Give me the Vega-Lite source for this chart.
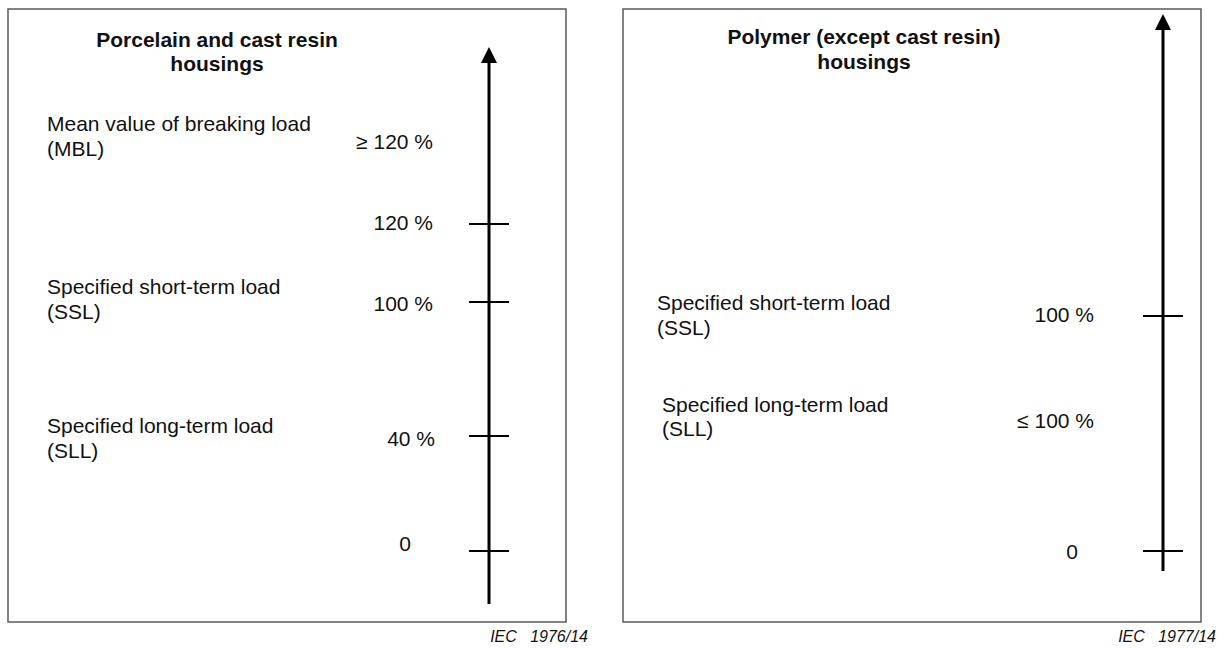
{
  "$schema": "https://vega.github.io/schema/vega-lite/v6.json",
  "width": 1228,
  "height": 648,
  "autosize": {"type": "fit", "contains": "padding"},
  "padding": 0,
  "background": "white",
  "config": {"view": {"stroke": null}, "text": {"font": "Liberation Sans"}},
  "datasets": {
    "boxes": [
      {"panel": "Porcelain and cast resin", "x": 8, "x2": 566, "y": 9, "y2": 622},
      {"panel": "Polymer (except cast resin)", "x": 623, "x2": 1201, "y": 9, "y2": 622}
    ],
    "shafts": [
      {"panel": "Porcelain and cast resin", "x": 489, "y": 60, "y2": 604},
      {"panel": "Polymer (except cast resin)", "x": 1163, "y": 26, "y2": 571}
    ],
    "heads": [
      {"panel": "Porcelain and cast resin", "x": 489, "y": 55},
      {"panel": "Polymer (except cast resin)", "x": 1163, "y": 22}
    ],
    "ticks": [
      {"panel": "Porcelain and cast resin", "load": "120 %", "x": 469, "x2": 509, "y": 224},
      {"panel": "Porcelain and cast resin", "load": "100 %", "x": 469, "x2": 509, "y": 302},
      {"panel": "Porcelain and cast resin", "load": "40 %", "x": 469, "x2": 509, "y": 436},
      {"panel": "Porcelain and cast resin", "load": "0", "x": 469, "x2": 509, "y": 551},
      {"panel": "Polymer (except cast resin)", "load": "100 %", "x": 1143, "x2": 1183, "y": 316},
      {"panel": "Polymer (except cast resin)", "load": "0", "x": 1143, "x2": 1183, "y": 551}
    ],
    "labels": [
      {"kind": "title", "text": "Porcelain and cast resin", "x": 217, "y": 41},
      {"kind": "title", "text": "housings", "x": 217, "y": 65},
      {"kind": "title", "text": "Polymer (except cast resin)", "x": 864, "y": 38},
      {"kind": "title", "text": "housings", "x": 864, "y": 63},
      {"kind": "name", "text": "Mean value of breaking load", "x": 47, "y": 125},
      {"kind": "name", "text": "(MBL)", "x": 47, "y": 150},
      {"kind": "name", "text": "Specified short-term load", "x": 47, "y": 288},
      {"kind": "name", "text": "(SSL)", "x": 47, "y": 313},
      {"kind": "name", "text": "Specified long-term load", "x": 47, "y": 427},
      {"kind": "name", "text": "(SLL)", "x": 47, "y": 452},
      {"kind": "name", "text": "Specified short-term load", "x": 657, "y": 304},
      {"kind": "name", "text": "(SSL)", "x": 657, "y": 329},
      {"kind": "name", "text": "Specified long-term load", "x": 662, "y": 406},
      {"kind": "name", "text": "(SLL)", "x": 662, "y": 430},
      {"kind": "value", "text": "≥ 120 %", "x": 433, "y": 143},
      {"kind": "value", "text": "120 %", "x": 433, "y": 224},
      {"kind": "value", "text": "100 %", "x": 433, "y": 305},
      {"kind": "value", "text": "40 %", "x": 435, "y": 440},
      {"kind": "value", "text": "0", "x": 411, "y": 545},
      {"kind": "value", "text": "100 %", "x": 1094, "y": 316},
      {"kind": "value", "text": "≤ 100 %", "x": 1094, "y": 422},
      {"kind": "value", "text": "0", "x": 1078, "y": 553},
      {"kind": "caption", "text": "IEC\u00a0\u00a0 1976/14", "x": 588, "y": 637},
      {"kind": "caption", "text": "IEC\u00a0\u00a0 1977/14", "x": 1216, "y": 637}
    ]
  },
  "encoding": {
    "x": {"field": "x", "type": "quantitative", "scale": {"domain": [0, 1228], "nice": false, "zero": false}, "axis": null},
    "y": {"field": "y", "type": "quantitative", "scale": {"domain": [0, 648], "nice": false, "zero": false, "reverse": true}, "axis": null}
  },
  "layer": [
    {
      "data": {"name": "boxes"},
      "mark": {"type": "rect", "fill": "white", "fillOpacity": 0, "stroke": "#5a5a5a", "strokeWidth": 1.5},
      "encoding": {"x2": {"field": "x2"}, "y2": {"field": "y2"}}
    },
    {
      "data": {"name": "shafts"},
      "mark": {"type": "rule", "color": "black", "strokeWidth": 3},
      "encoding": {"y2": {"field": "y2"}}
    },
    {
      "data": {"name": "heads"},
      "mark": {"type": "point", "shape": "M0,-1L-1,1L1,1Z", "filled": true, "color": "black", "opacity": 1, "size": 256, "strokeWidth": 0}
    },
    {
      "data": {"name": "ticks"},
      "mark": {"type": "rule", "color": "black", "strokeWidth": 2},
      "encoding": {"x2": {"field": "x2"}}
    },
    {
      "data": {"name": "labels"},
      "transform": [{"filter": "datum.kind === 'title'"}],
      "mark": {"type": "text", "align": "center", "baseline": "middle", "fontSize": 21, "fontWeight": "bold", "color": "#111"},
      "encoding": {"text": {"field": "text"}}
    },
    {
      "data": {"name": "labels"},
      "transform": [{"filter": "datum.kind === 'name'"}],
      "mark": {"type": "text", "align": "left", "baseline": "middle", "fontSize": 21, "color": "#111"},
      "encoding": {"text": {"field": "text"}}
    },
    {
      "data": {"name": "labels"},
      "transform": [{"filter": "datum.kind === 'value'"}],
      "mark": {"type": "text", "align": "right", "baseline": "middle", "fontSize": 21, "color": "#111"},
      "encoding": {"text": {"field": "text"}}
    },
    {
      "data": {"name": "labels"},
      "transform": [{"filter": "datum.kind === 'caption'"}],
      "mark": {"type": "text", "align": "right", "baseline": "middle", "fontSize": 16, "fontStyle": "italic", "color": "#111"},
      "encoding": {"text": {"field": "text"}}
    }
  ]
}
